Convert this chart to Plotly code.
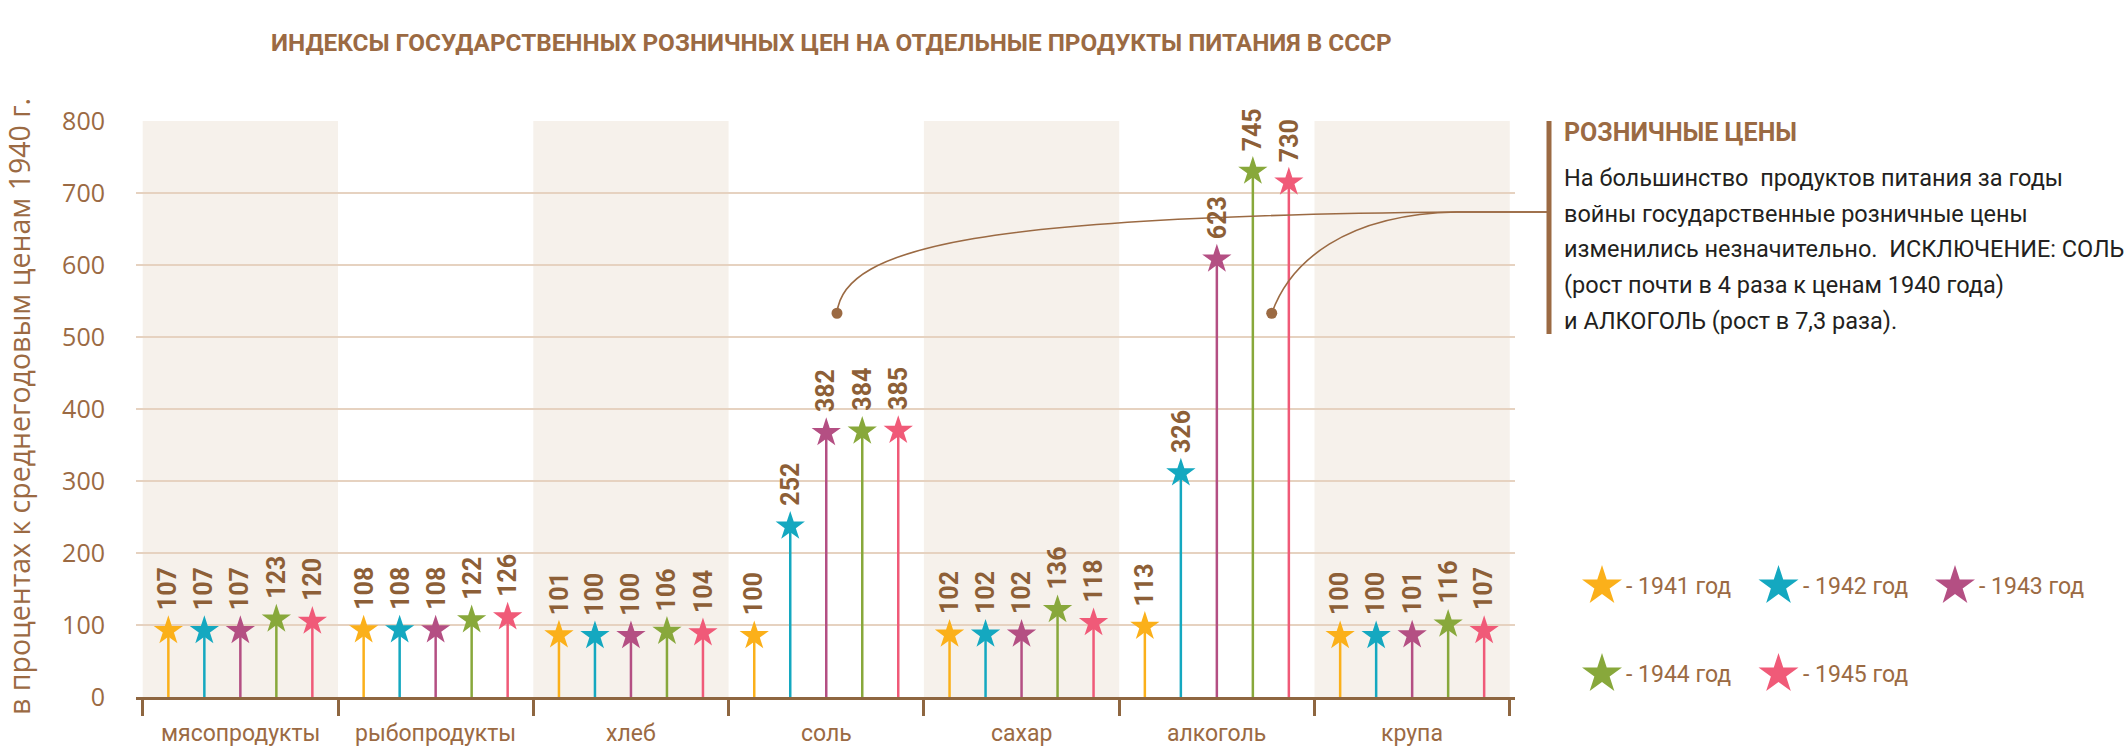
import plotly.graph_objects as go

# ---------------- data ----------------
categories = ["мясопродукты", "рыбопродукты", "хлеб", "соль", "сахар", "алкоголь", "крупа"]
years = ["1941", "1942", "1943", "1944", "1945"]
v1941 = [107, 108, 101, 100, 102, 113, 100]
v1942 = [107, 108, 100, 252, 102, 326, 100]
v1943 = [107, 108, 100, 382, 102, 623, 101]
v1944 = [123, 122, 106, 384, 136, 745, 116]
v1945 = [120, 126, 104, 385, 118, 730, 107]
series = [v1941, v1942, v1943, v1944, v1945]
y_ticks = [0, 100, 200, 300, 400, 500, 600, 700, 800]
legend_labels = ["- 1941 год", "- 1942 год", "- 1943 год", "- 1944 год", "- 1945 год"]

title_text = "ИНДЕКСЫ ГОСУДАРСТВЕННЫХ РОЗНИЧНЫХ ЦЕН НА ОТДЕЛЬНЫЕ ПРОДУКТЫ ПИТАНИЯ В СССР"
y_title = "в процентах к среднегодовым ценам 1940 г."
note_title = "РОЗНИЧНЫЕ ЦЕНЫ"
note_lines = [
    "На большинство  продуктов питания за годы",
    "войны государственные розничные цены",
    "изменились незначительно.  ИСКЛЮЧЕНИЕ: СОЛЬ",
    "(рост почти в 4 раза к ценам 1940 года)",
    "и АЛКОГОЛЬ (рост в 7,3 раза).",
]

# ---------------- style ----------------
colors = ["#FBB01A", "#14A8C0", "#B44F83", "#88A83B", "#F05A78"]
BROWN = "#9B6A43"
DARK_BROWN = "#8D5F37"
AXIS = "#8E6640"
GRID = "#E6D2C0"
BAND = "#F6F1EB"
BODY = "#231F20"
NARROW = "Roboto, Liberation Sans Narrow, sans-serif"
REG = "Open Sans, Liberation Sans, sans-serif"

W, H = 2127, 754
ML, MR, MT, MB = 136, 2, 121, 57
PLOT_R = 1515
PW = W - ML - MR
PH = H - MT - MB


def px_x(X):
    return (X - ML) / PW


def px_y(Y):
    return (H - MB - Y) / PH


# main x axis: group i centred at i
G0, GW = 142.7, 195.3  # pixel of first group boundary, group width in px
XR = [(ML - G0) / GW - 0.5, (PLOT_R - G0) / GW - 0.5]
YR = [0, 800]
PPU = PH / (YR[1] - YR[0])  # px per unit
STEP = 36 / GW
STAR = 22
STAR_DROP = 15  # star centre below value (units); the star tip marks the value


def d2px(x, y):
    return G0 + GW * (x + 0.5), (H - MB) - y * PPU


fig = go.Figure()

ann = []
for j, vals in enumerate(series):
    xs, ys = [], []
    sx, sy = [], []
    for i, v in enumerate(vals):
        x = i + (j - 2) * STEP
        c = v - STAR_DROP
        xs += [x, x, None]
        ys += [0, c, None]
        sx.append(x)
        sy.append(c)
        ann.append(dict(x=x, y=c, xref="x", yref="y", text=str(v), showarrow=False,
                        textangle=-90, yanchor="bottom", xanchor="center", yshift=STAR * 0.7 + 3,
                        font=dict(family=NARROW, size=25, color=DARK_BROWN, weight="bold")))
    fig.add_trace(go.Scatter(x=xs, y=ys, mode="lines", line=dict(color=colors[j], width=2.5),
                             hoverinfo="skip", showlegend=False))
    fig.add_trace(go.Scatter(x=sx, y=sy, mode="markers", name=years[j],
                             marker=dict(symbol="star", size=STAR, color=colors[j], line=dict(width=0)),
                             showlegend=False, cliponaxis=False))

# legend on its own axes
LX0, LDX, LY0, LDY = 1602, 176.5, 586, 88
lx = [k % 3 for k in range(len(years))]
ly = [k // 3 for k in range(len(years))]
fig.add_trace(go.Scatter(x=lx, y=ly, mode="markers", xaxis="x2", yaxis="y2",
                         marker=dict(symbol="star", size=30, color=colors, line=dict(width=0)),
                         showlegend=False, hoverinfo="skip", cliponaxis=False))
for k, t in enumerate(legend_labels):
    ann.append(dict(x=lx[k], y=ly[k], xref="x2", yref="y2", text=t, showarrow=False,
                    xanchor="left", yanchor="middle", xshift=22,
                    font=dict(family=NARROW, size=23, color=BROWN)))

# category labels
for i, c in enumerate(categories):
    ann.append(dict(x=i, y=px_y(733), xref="x", yref="paper", text=c, showarrow=False,
                    xanchor="center", yanchor="middle",
                    font=dict(family=NARROW, size=23, color=BROWN)))

# title
ann.append(dict(x=px_x(831), y=px_y(43), xref="paper", yref="paper", text=title_text,
                showarrow=False, xanchor="center", yanchor="middle",
                font=dict(family=NARROW, size=24.3, color=BROWN, weight="bold")))
# y title
ann.append(dict(x=px_x(19), y=px_y(407), xref="paper", yref="paper", text=y_title,
                showarrow=False, textangle=-90, xanchor="center", yanchor="middle",
                font=dict(family=REG, size=28.5, color=BROWN)))
# note
ann.append(dict(x=px_x(1562), y=px_y(132), xref="paper", yref="paper", text=note_title,
                showarrow=False, xanchor="left", yanchor="middle",
                font=dict(family=NARROW, size=25, color=BROWN, weight="bold")))
for k, t in enumerate(note_lines):
    ann.append(dict(x=px_x(1562), y=px_y(178 + 35.7 * k), xref="paper", yref="paper", text=t,
                    showarrow=False, xanchor="left", yanchor="middle",
                    font=dict(family=NARROW, size=23.5, color=BODY)))

shapes = []
for i in range(0, len(categories), 2):
    shapes.append(dict(type="rect", xref="x", yref="y", x0=i - 0.5, x1=i + 0.5, y0=0, y1=800,
                       fillcolor=BAND, line=dict(width=0), layer="below"))

# bracket
shapes.append(dict(type="line", xref="paper", yref="paper", x0=px_x(1549), x1=px_x(1549),
                   y0=px_y(121), y1=px_y(334), line=dict(color=BROWN, width=5)))

# callout curves from the note to salt and alcohol
dots = [(3.055, 533), (5.281, 533)]
J = (1457, 212)
E = (1547, 212)
ctrl = [((843, 245), (990, 216)), ((1290, 262), (1345, 214))]
for (dx, dy), (c1, c2) in zip(dots, ctrl):
    X0, Y0 = d2px(dx, dy)
    pts = [(X0, Y0), c1, c2, J]
    p = "M {:.5f},{:.5f} C {:.5f},{:.5f} {:.5f},{:.5f} {:.5f},{:.5f} L {:.5f},{:.5f}".format(
        px_x(pts[0][0]), px_y(pts[0][1]), px_x(pts[1][0]), px_y(pts[1][1]),
        px_x(pts[2][0]), px_y(pts[2][1]), px_x(pts[3][0]), px_y(pts[3][1]),
        px_x(E[0]), px_y(E[1]))
    shapes.append(dict(type="path", xref="paper", yref="paper", path=p,
                       line=dict(color=BROWN, width=1.6)))
    r = 5.5
    shapes.append(dict(type="circle", xref="paper", yref="paper",
                       x0=px_x(X0 - r), x1=px_x(X0 + r), y0=px_y(Y0 + r), y1=px_y(Y0 - r),
                       fillcolor=BROWN, line=dict(width=0)))

fig.update_layout(
    width=W, height=H,
    margin=dict(l=ML, r=MR, t=MT, b=MB, pad=0),
    paper_bgcolor="white", plot_bgcolor="white",
    showlegend=False,
    xaxis=dict(domain=[0, px_x(PLOT_R)], range=XR, showgrid=False, zeroline=False,
               showline=True, linecolor=AXIS, linewidth=3,
               tickmode="array", tickvals=[i - 0.5 for i in range(len(categories) + 1)],
               ticktext=[""] * (len(categories) + 1),
               ticks="outside", ticklen=16, tickwidth=3, tickcolor=AXIS, fixedrange=True),
    yaxis=dict(domain=[0, 1], range=YR, tickmode="array", tickvals=y_ticks,
               ticktext=[str(t) for t in y_ticks],
               showgrid=True, gridcolor=GRID, gridwidth=2, zeroline=False, showline=False,
               ticks="", ticklabelstandoff=30,
               tickfont=dict(family=REG, size=25, color=BROWN), fixedrange=True),
    xaxis2=dict(domain=[px_x(1560), 1], range=[(1560 - LX0) / LDX, (W - MR - LX0) / LDX],
                anchor="y2", visible=False, fixedrange=True),
    yaxis2=dict(domain=[0, px_y(540)], range=[(H - MB - LY0) / LDY, (540 - LY0) / LDY],
                anchor="x2", visible=False, fixedrange=True),
    annotations=ann,
    shapes=shapes,
)

fig.write_html("out.html", config={"displayModeBar": False},
               post_script="document.body.style.margin='0';")
